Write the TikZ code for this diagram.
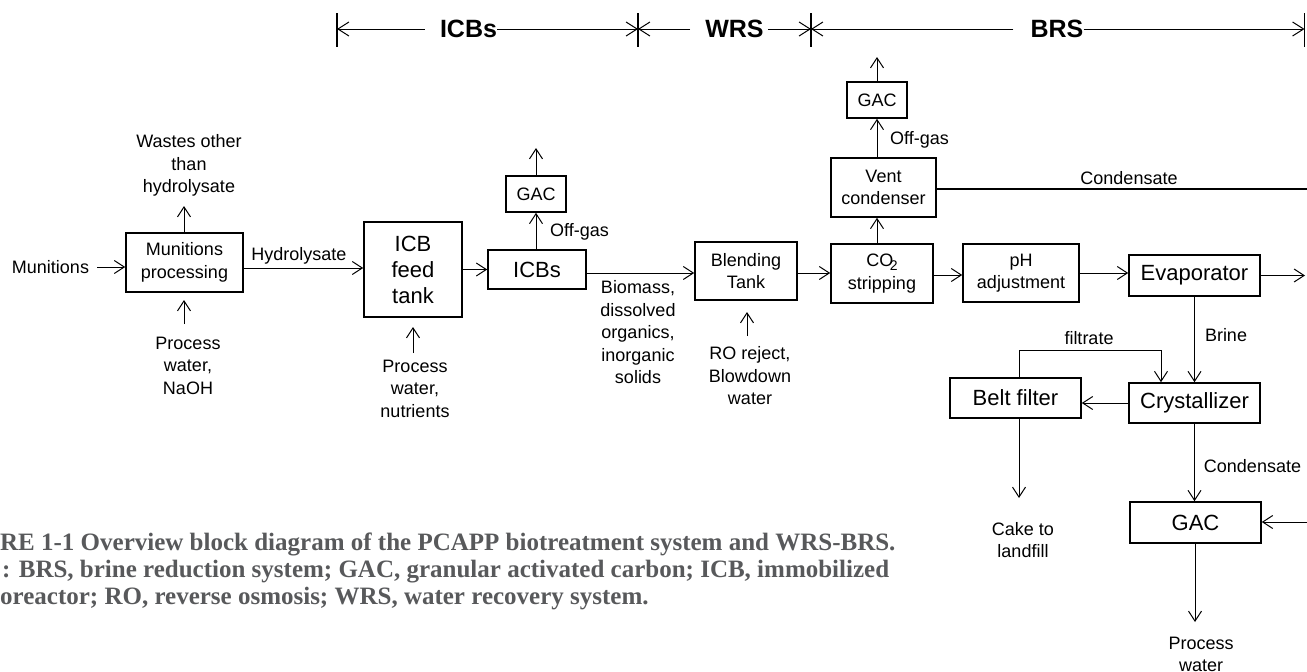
\documentclass[tikz,border=0pt]{standalone}
\usepackage{fontspec}
\setmainfont{Liberation Sans}
\newfontfamily\capserif{Liberation Serif}
\usetikzlibrary{arrows.meta}
\definecolor{capgray}{HTML}{58595B}
\newcommand{\fsm}{\fontsize{18}{22.5}\selectfont}
\newcommand{\fbg}{\fontsize{22}{26}\selectfont}
\newcommand{\fhd}{\fontsize{25}{30}\selectfont\bfseries}
\newcommand{\fcp}{\fontsize{25}{24.5}\selectfont\capserif\bfseries}
\begin{document}
\begin{tikzpicture}[x=1pt,y=-1pt,
  box/.style={draw, line width=1.6pt, inner sep=0pt, align=center},
  lbl/.style={inner sep=0pt, align=center, font=\fsm},
  hd/.style={inner sep=0pt, font=\fhd},
  captxt/.style={anchor=base west, inner sep=0pt, font=\fcp, text=capgray},
  arr/.style={line width=1pt, -{Straight Barb[length=10pt,width=13pt,line width=1pt]}},
  harr/.style={line width=1pt, -{Straight Barb[length=11pt,width=14pt,line width=1pt]}},
  barline/.style={line width=1.6pt},
  thick line/.style={line width=1.6pt}]
\useasboundingbox (0,0) rectangle (1307,672);

% ---------- header ----------
\coordinate (bar1) at (337,29);
\coordinate (bar2) at (638,29);
\coordinate (bar3) at (811,29);
\coordinate (bar4) at (1304.5,29);
\foreach \b in {bar1,bar2,bar3,bar4}
  \draw[barline] ([yshift=16pt]\b) -- ([yshift=-18pt]\b);
\node[hd] (hICB) at (468.5,29) {ICBs};
\node[hd] (hWRS) at (734.5,29) {WRS};
\node[hd] (hBRS) at (1057,29) {BRS};
\draw[harr] ([xshift=-15pt]hICB.west) -- (bar1);
\draw[harr] (hICB.east) -- (bar2);
\draw[harr] ([xshift=-15pt]hWRS.west) -- (bar2);
\draw[harr] ([xshift=4pt]hWRS.east) -- (bar3);
\draw[harr] ([xshift=-17pt]hBRS.west) -- (bar3);
\draw[harr] (hBRS.east) -- (bar4);

% ---------- boxes ----------
\node[box, font=\fsm, minimum width=117pt, minimum height=59pt] (mp) at (184.5,262.5) {Munitions\\processing};
\node[box, font=\fbg, minimum width=98pt, minimum height=95pt] (ift) at (413,269.5) {ICB\\feed\\tank};
\node[box, font=\fbg, minimum width=98pt, minimum height=39pt] (icbs) at (537,269.5) {ICBs};
\node[box, font=\fsm, minimum width=60pt, minimum height=36pt] (gac1) at (536,194) {GAC};
\node[box, font=\fsm, minimum width=102pt, minimum height=58pt] (blend) at (746,271) {Blending\\Tank};
\node[box, font=\fsm, minimum width=102pt, minimum height=59pt] (co2) at (882,273.5) {CO\kern-3.5pt\raisebox{-4pt}{\fontsize{14}{14}\selectfont 2}\\stripping};
\node[box, font=\fsm, minimum width=105pt, minimum height=59pt] (vent) at (883.5,187.5) {Vent\\condenser};
\node[box, font=\fsm, minimum width=60pt, minimum height=36pt] (gac2) at (877,100) {GAC};
\node[box, font=\fsm, minimum width=116pt, minimum height=58pt] (ph) at (1021,273) {pH\\adjustment};
\node[box, font=\fbg, minimum width=131pt, minimum height=41pt] (evap) at (1194.5,275.5) {Evaporator};
\node[box, font=\fbg, minimum width=131pt, minimum height=40pt] (belt) at (1015.5,398) {Belt filter};
\node[box, font=\fbg, minimum width=131pt, minimum height=40pt] (cryst) at (1194.5,403) {Crystallizer};
\node[box, font=\fbg, minimum width=131pt, minimum height=41pt] (gac3) at (1195.5,522.5) {GAC};

% ---------- labels ----------
\node[lbl] (munl) at (50.5,267) {Munitions};
\node[lbl] (wastes) at (189,165.5) {Wastes other\\than\\hydrolysate};
\node[lbl] (pw1) at (188,365.5) {Process\\water,\\NaOH};
\node[lbl] (hydro) at (299,256) {Hydrolysate};
\node[lbl] (pw2) at (415,388.5) {Process\\water,\\nutrients};
\node[lbl] (off1) at (579.5,232) {Off-gas};
\node[lbl] (biom) at (638,332.5) {Biomass,\\dissolved\\organics,\\inorganic\\solids};
\node[lbl] (ro) at (750,376) {RO reject,\\Blowdown\\water};
\node[lbl] (off2) at (919.5,140) {Off-gas};
\node[lbl] (cond1) at (1129,178) {Condensate};
\node[lbl] (brine) at (1226,335) {Brine};
\node[lbl] (filt) at (1089,338) {filtrate};
\node[lbl] (cake) at (1023,540) {Cake to\\landfill};
\node[lbl] (cond2) at (1252.5,466) {Condensate};
\node[lbl] (procw) at (1201,654.5) {Process\\water};

% ---------- free ends ----------
\coordinate (munS) at (97,267);
\coordinate (wasteE) at (184,206);
\coordinate (pw1S) at (184,324);
\coordinate (pw1E) at (184,300);
\coordinate (pw2S) at (413,353);
\coordinate (pw2E) at (413,327);
\coordinate (gac1E) at (536,148);
\coordinate (roS) at (747,336);
\coordinate (roE) at (747,312);
\coordinate (gac2E) at (877,57);
\coordinate (condR) at (1307,189);
\coordinate (evapE) at (1305,275);
\coordinate (filtC) at (1161,350);
\coordinate (cakeE) at (1019,498);
\coordinate (gacIn) at (1307,522);
\coordinate (procE) at (1195,622);

% ---------- connectors ----------
\draw[arr] (munS) -- (munS -| mp.west);
\draw[arr] (mp.north -| wasteE) -- (wasteE);
\draw[arr] (pw1S) -- (pw1E);
\draw[arr] ([yshift=-5.5pt]mp.east) -- ([yshift=-5.5pt]mp.east -| ift.west);
\draw[arr] (pw2S) -- (pw2E);
\draw[arr] (ift.east |- icbs.west) -- (icbs.west);
\draw[arr] (icbs.north -| gac1.south) -- (gac1.south);
\draw[arr] (gac1.north) -- (gac1E);
\draw[arr] ([yshift=-3.5pt]icbs.east) -- ([yshift=-3.5pt]icbs.east -| blend.west);
\draw[arr] (roS) -- (roE);
\draw[arr] ([yshift=-2pt]blend.east) -- ([yshift=-2pt]blend.east -| co2.west);
\draw[arr] (co2.north -| gac2E) -- (vent.south -| gac2E);
\draw[arr] (vent.north -| gac2E) -- (gac2.south -| gac2E);
\draw[arr] (gac2.north) -- (gac2E);
\draw[thick line] (vent.east |- condR) -- (condR);
\draw[arr] ([yshift=-1.5pt]co2.east) -- ([yshift=-1.5pt]co2.east -| ph.west);
\draw[arr] (ph.east) -- (ph.east -| evap.west);
\draw[arr] (evap.east) -- (evap.east -| evapE);
\draw[arr] (evap.south) -- (cryst.north);
\draw[arr] (belt.north -| cakeE) |- (filtC) -- (filtC |- cryst.north);
\draw[arr] (cryst.west) -- (cryst.west -| belt.east);
\draw[arr] (belt.south -| cakeE) -- (cakeE);
\draw[arr] (cryst.south) -- (gac3.north -| cryst.south);
\draw[arr] (gacIn) -- (gacIn -| gac3.east);
\draw[arr] (gac3.south -| procE) -- (procE);

% ---------- caption ----------
\node[captxt] (cap1) at (0,550) {RE 1-1 Overview block diagram of the PCAPP biotreatment system and WRS-BRS.};
\node[captxt] (cap2) at (2,577) {: BRS, brine reduction system; GAC, granular activated carbon; ICB, immobilized};
\node[captxt] (cap3) at (0,604) {oreactor; RO, reverse osmosis; WRS, water recovery system.};
\end{tikzpicture}
\end{document}
